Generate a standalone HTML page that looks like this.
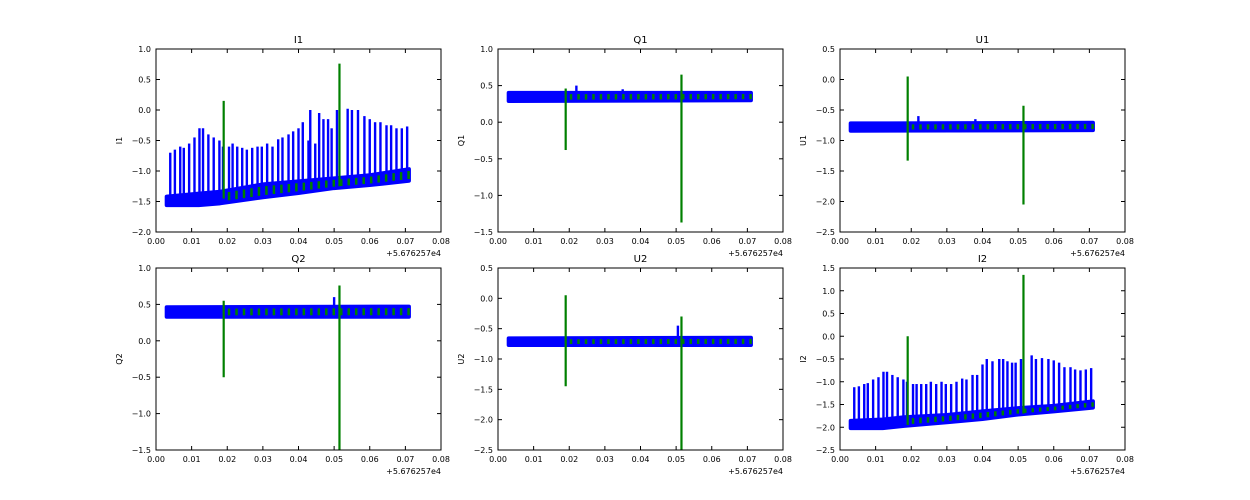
<!DOCTYPE html>
<html><head><meta charset="utf-8">
<style>
html,body{margin:0;padding:0;background:#fff;}
svg{display:block;font-family:"DejaVu Sans","Liberation Sans",sans-serif;}
</style></head>
<body>
<svg id="fig" width="1250" height="500" viewBox="0 0 1250 500" xmlns="http://www.w3.org/2000/svg">
<rect x="0" y="0" width="1250" height="500" fill="#fff"/>
</svg>
<script>
// ---- shared x ticks ----
const xTicks = [0.00,0.01,0.02,0.03,0.04,0.05,0.06,0.07,0.08];
const xTickLabels = ["0.00","0.01","0.02","0.03","0.04","0.05","0.06","0.07","0.08"];
const offsetLabel = "+5.676257e4";

// ---- I1 ----
const i1SpikeX = [0.004,0.0053,0.0068,0.0078,0.0093,0.0108,0.0122,0.0132,0.0147,0.0162,0.0178,0.0188,0.0205,0.0215,0.0228,0.0242,0.0255,0.027,0.0285,0.0297,0.0312,0.0327,0.0343,0.0355,0.0372,0.0385,0.04,0.0412,0.0428,0.0433,0.0447,0.0458,0.047,0.0483,0.0493,0.0508,0.0538,0.055,0.0567,0.0585,0.06,0.0615,0.063,0.0647,0.066,0.0675,0.069,0.0705];
const i1SpikeTop = [-0.7,-0.65,-0.6,-0.62,-0.55,-0.45,-0.3,-0.3,-0.4,-0.45,-0.5,-0.6,-0.6,-0.55,-0.6,-0.62,-0.65,-0.62,-0.6,-0.6,-0.55,-0.6,-0.48,-0.45,-0.4,-0.35,-0.3,-0.2,-0.5,0.0,-0.55,-0.05,-0.15,-0.15,-0.3,0.0,0.02,0.0,0.0,-0.1,-0.15,-0.2,-0.2,-0.25,-0.25,-0.3,-0.3,-0.27];
const i1BandX = [0.003,0.012,0.018,0.03,0.04,0.05,0.06,0.071];
const i1BandLo = [-1.56,-1.56,-1.53,-1.43,-1.36,-1.28,-1.23,-1.16];
const i1BandHi = [-1.42,-1.37,-1.34,-1.22,-1.17,-1.12,-1.07,-0.97];
const i1GreenX = [0.019,0.0515];
const i1GreenLo = [-1.45,-1.25];
const i1GreenHi = [0.15,0.76];

// ---- Q1 ----
const q1SpikeX = [0.022,0.035];
const q1SpikeTop = [0.5,0.45];
const q1BandX = [0.003,0.071];
const q1BandLo = [0.29,0.30];
const q1BandHi = [0.40,0.40];
const q1GreenX = [0.019,0.0515];
const q1GreenLo = [-0.38,-1.37];
const q1GreenHi = [0.46,0.65];

// ---- U1 ----
const u1SpikeX = [0.022,0.038];
const u1SpikeTop = [-0.6,-0.65];
const u1BandX = [0.003,0.071];
const u1BandLo = [-0.84,-0.83];
const u1BandHi = [-0.72,-0.71];
const u1GreenX = [0.019,0.0515];
const u1GreenLo = [-1.33,-2.05];
const u1GreenHi = [0.05,-0.43];

// ---- Q2 ----
const q2SpikeX = [0.05];
const q2SpikeTop = [0.6];
const q2BandX = [0.003,0.071];
const q2BandLo = [0.33,0.33];
const q2BandHi = [0.46,0.47];
const q2GreenX = [0.019,0.0515];
const q2GreenLo = [-0.5,-1.5];
const q2GreenHi = [0.55,0.76];

// ---- U2 ----
const u2SpikeX = [0.0505];
const u2SpikeTop = [-0.45];
const u2BandX = [0.003,0.071];
const u2BandLo = [-0.77,-0.77];
const u2BandHi = [-0.66,-0.65];
const u2GreenX = [0.019,0.0515];
const u2GreenLo = [-1.45,-2.5];
const u2GreenHi = [0.05,-0.3];

// ---- I2 ----
const i2SpikeX = [0.004,0.0053,0.0068,0.0078,0.0093,0.0108,0.0122,0.0132,0.0147,0.0162,0.0178,0.0188,0.0205,0.0215,0.0228,0.0242,0.0255,0.027,0.0285,0.0297,0.0312,0.0327,0.0343,0.0355,0.0372,0.0385,0.04,0.0412,0.0428,0.0447,0.0458,0.047,0.0483,0.0493,0.0508,0.0538,0.055,0.0567,0.0585,0.06,0.0615,0.063,0.0647,0.066,0.0675,0.069,0.0705];
const i2SpikeTop = [-1.12,-1.1,-1.05,-1.03,-0.95,-0.9,-0.78,-0.78,-0.85,-0.9,-0.95,-1.0,-1.05,-1.05,-1.05,-1.05,-1.0,-1.05,-1.0,-1.05,-1.05,-1.0,-0.93,-0.95,-0.85,-0.85,-0.62,-0.5,-0.55,-0.5,-0.5,-0.55,-0.58,-0.58,-0.5,-0.42,-0.5,-0.48,-0.5,-0.53,-0.58,-0.68,-0.68,-0.73,-0.75,-0.73,-0.7];
const i2BandX = [0.003,0.012,0.018,0.03,0.04,0.05,0.06,0.071];
const i2BandLo = [-2.02,-2.02,-1.97,-1.89,-1.82,-1.72,-1.65,-1.57];
const i2BandHi = [-1.86,-1.83,-1.78,-1.73,-1.65,-1.58,-1.53,-1.43];
const i2GreenX = [0.019,0.0515];
const i2GreenLo = [-1.95,-1.7];
const i2GreenHi = [0.0,1.35];

const NS = "http://www.w3.org/2000/svg";
const svg = document.getElementById('fig');
function el(tag, attrs, parent){
  const e = document.createElementNS(NS, tag);
  for (const k in attrs) e.setAttribute(k, attrs[k]);
  (parent||svg).appendChild(e);
  return e;
}

const panels = [
  {title:"I1", x:156, y:49, w:285, h:183, ymin:-2.0, ymax:1.0, yTicks:[-2.0,-1.5,-1.0,-0.5,0.0,0.5,1.0], sx:i1SpikeX, st:i1SpikeTop, bx:i1BandX, bl:i1BandLo, bh:i1BandHi, gx:i1GreenX, gl:i1GreenLo, gh:i1GreenHi},
  {title:"Q1", x:498, y:49, w:285, h:183, ymin:-1.5, ymax:1.0, yTicks:[-1.5,-1.0,-0.5,0.0,0.5,1.0], sx:q1SpikeX, st:q1SpikeTop, bx:q1BandX, bl:q1BandLo, bh:q1BandHi, gx:q1GreenX, gl:q1GreenLo, gh:q1GreenHi},
  {title:"U1", x:840, y:49, w:285, h:183, ymin:-2.5, ymax:0.5, yTicks:[-2.5,-2.0,-1.5,-1.0,-0.5,0.0,0.5], sx:u1SpikeX, st:u1SpikeTop, bx:u1BandX, bl:u1BandLo, bh:u1BandHi, gx:u1GreenX, gl:u1GreenLo, gh:u1GreenHi},
  {title:"Q2", x:156, y:268, w:285, h:182, ymin:-1.5, ymax:1.0, yTicks:[-1.5,-1.0,-0.5,0.0,0.5,1.0], sx:q2SpikeX, st:q2SpikeTop, bx:q2BandX, bl:q2BandLo, bh:q2BandHi, gx:q2GreenX, gl:q2GreenLo, gh:q2GreenHi},
  {title:"U2", x:498, y:268, w:285, h:182, ymin:-2.5, ymax:0.5, yTicks:[-2.5,-2.0,-1.5,-1.0,-0.5,0.0,0.5], sx:u2SpikeX, st:u2SpikeTop, bx:u2BandX, bl:u2BandLo, bh:u2BandHi, gx:u2GreenX, gl:u2GreenLo, gh:u2GreenHi},
  {title:"I2", x:840, y:268, w:285, h:182, ymin:-2.5, ymax:1.5, yTicks:[-2.5,-2.0,-1.5,-1.0,-0.5,0.0,0.5,1.0,1.5], sx:i2SpikeX, st:i2SpikeTop, bx:i2BandX, bl:i2BandLo, bh:i2BandHi, gx:i2GreenX, gl:i2GreenLo, gh:i2GreenHi},
];

function interp(xs, ys, x){
  if (x<=xs[0]) return ys[0];
  for (let i=1;i<xs.length;i++){
    if (x<=xs[i]){ const t=(x-xs[i-1])/(xs[i]-xs[i-1]); return ys[i-1]+t*(ys[i]-ys[i-1]); }
  }
  return ys[ys.length-1];
}
function fmt(v){ return (v<0?"\u2212":"")+Math.abs(v).toFixed(1); }

panels.forEach(p=>{
  const g = el('g', {});
  
  
  const X = v => p.x + (v-0)/(0.08-0)*p.w;
  const Y = v => p.y + (p.ymax - v)/(p.ymax-p.ymin)*p.h;

  const cid = 'clip-'+p.title;
  const cp = el('clipPath', {id:cid}, g);
  el('rect', {x:p.x, y:p.y, width:p.w, height:p.h}, cp);
  const plot = el('g', {'clip-path':'url(#'+cid+')'}, g);
  
  

  let pts = [];
  p.bx.forEach((x,i)=>pts.push(X(x)+','+Y(p.bh[i])));
  for (let i=p.bx.length-1;i>=0;i--) pts.push(X(p.bx[i])+','+Y(p.bl[i]));
  const band = el('polygon', {points:pts.join(' '), fill:'#0000ff', stroke:'#0000ff', 'stroke-width':4, 'stroke-linejoin':'round'}, plot);
  
  

  p.sx.forEach((x,i)=>{
    const base = interp(p.bx, p.bh, x);
    const s = el('line', {x1:X(x), x2:X(x), y1:Y(base), y2:Y(p.st[i]), stroke:'#0000ff', 'stroke-width':2.4}, plot);
    
    
  });

  for (let x=0.0205; x<0.071; x+=0.0021){
    const lo = interp(p.bx, p.bl, x), hi = interp(p.bx, p.bh, x);
    const m = (lo+hi)/2, r=(hi-lo)*0.35;
    const gb = el('line', {x1:X(x), x2:X(x), y1:Y(m+r), y2:Y(m-r), stroke:'#008000', 'stroke-width':2.5}, plot);
    
    
  }

  p.gx.forEach((x,i)=>{
    const s = el('line', {x1:X(x), x2:X(x), y1:Y(p.gh[i]), y2:Y(p.gl[i]), stroke:'#008000', 'stroke-width':2.2}, plot);
    
    
  });

  const fr = el('rect', {x:p.x, y:p.y, width:p.w, height:p.h, fill:'none', stroke:'#000', 'stroke-width':1}, g);
  
  

  xTicks.forEach((t,i)=>{
    const xx = X(t);
    el('line', {x1:xx, x2:xx, y1:p.y+p.h, y2:p.y+p.h-4, stroke:'#000','stroke-width':1}, g);
    el('line', {x1:xx, x2:xx, y1:p.y, y2:p.y+4, stroke:'#000','stroke-width':1}, g);
    const tl = el('text', {x:xx, y:p.y+p.h+12, 'font-size':8, 'text-anchor':'middle', fill:'#000'}, g);
    tl.textContent = xTickLabels[i];
    
    
  });
  const off = el('text', {x:p.x+p.w, y:p.y+p.h+24, 'font-size':8, 'text-anchor':'end', fill:'#000'}, g);
  off.textContent = offsetLabel;
  
  

  p.yTicks.forEach(t=>{
    const yy = Y(t);
    el('line', {x1:p.x, x2:p.x+4, y1:yy, y2:yy, stroke:'#000','stroke-width':1}, g);
    el('line', {x1:p.x+p.w, x2:p.x+p.w-4, y1:yy, y2:yy, stroke:'#000','stroke-width':1}, g);
    const tl = el('text', {x:p.x-5, y:yy+3, 'font-size':8, 'text-anchor':'end', fill:'#000'}, g);
    tl.textContent = fmt(t);
    
    
  });

  const tt = el('text', {x:p.x+p.w/2, y:p.y-6, 'font-size':10, 'text-anchor':'middle', fill:'#000'}, g);
  tt.textContent = p.title;
  
  

  const yl = el('text', {x:0, y:0, 'font-size':8, 'text-anchor':'middle', fill:'#000', transform:'translate('+(p.x-34)+','+(p.y+p.h/2)+') rotate(-90)'}, g);
  yl.textContent = p.title;
  
  
});
</script>
</body></html>
